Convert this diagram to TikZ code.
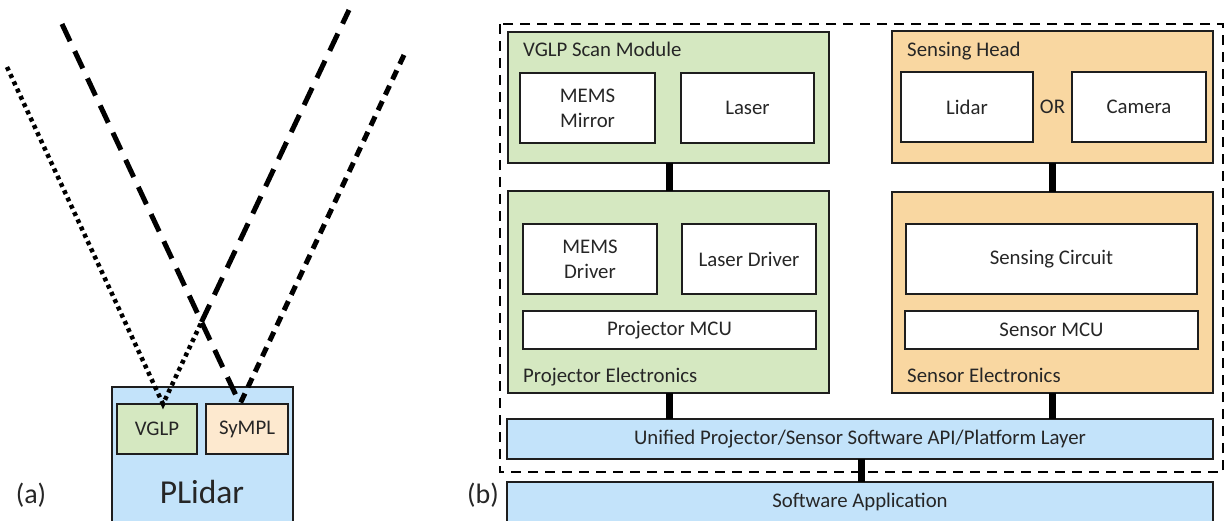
\documentclass[tikz,border=0pt]{standalone}
\usepackage{fontspec}
\setmainfont{Carlito}
\usetikzlibrary{calc}
\definecolor{gfill}{HTML}{D5E8C1}
\definecolor{ofill}{HTML}{F9D7A1}
\definecolor{bfill}{HTML}{C3E3FA}
\definecolor{pfill}{HTML}{FDE9CF}
\definecolor{edge}{HTML}{1E1E1E}
\definecolor{ink}{HTML}{262626}
\newcommand\lblfont{\fontsize{20.8}{25}\selectfont}
\begin{document}
\begin{tikzpicture}[x=1pt,y=-1pt,
  box/.style={draw=edge,line width=1.8pt,inner sep=0pt,outer sep=0pt,text=ink,font=\lblfont,align=center},
  wbox/.style={box,fill=white},
  gbox/.style={box,fill=gfill},
  obox/.style={box,fill=ofill},
  bbox/.style={box,fill=bfill},
  pbox/.style={box,fill=pfill},
  title/.style={anchor=base west,inner sep=0pt,text=ink,font=\lblfont},
  plain/.style={inner sep=0pt,text=ink,font=\lblfont},
  link/.style={draw=black,line width=7pt},
  dotline/.style={line width=4.5pt,dash pattern=on 4pt off 4pt},
  longdash/.style={line width=5pt,dash pattern=on 19pt off 11pt},
  meddash/.style={line width=5pt,dash pattern=on 10pt off 7pt},
  outerdash/.style={line width=2.8pt,dash pattern=on 10pt off 7pt}]
\useasboundingbox (0,0) rectangle (1225,521);

% ---------- panel (a) ----------
\node[bbox,minimum width=181pt,minimum height=136pt] (plidar) at (202.5,455) {};
\node[gbox,minimum width=80pt,minimum height=50pt] (vglp) at (157,429) {VGLP};
\node[pbox,minimum width=82pt,minimum height=50pt] (sympl) at (247,429) {SyMPL};
\node[plain,font=\fontsize{33.5}{38}\selectfont] (plidartxt) at (202,492) {PLidar};
\node[plain,font=\fontsize{28}{32}\selectfont] (alab) at (31,495) {(a)};

\coordinate (p1) at ($(vglp.north)+(6,0)$);
\coordinate (s1) at ($(sympl.north)+(-7,0)$);
\coordinate (dl) at (7,67);
\coordinate (ul) at (62,24);
\coordinate (ur) at (349,10);
\coordinate (rr) at (404,55);
\coordinate (xc) at (201.5,322);

\draw[dotline] (dl) -- (p1) -- (xc);
\draw[longdash] (xc) -- (ur);
\draw[longdash] (ul) -- (s1);
\draw[meddash] (rr) -- (s1);

% ---------- panel (b) ----------
\draw[outerdash] (500,24) rectangle (1223,472);

\node[gbox,minimum width=321pt,minimum height=131pt] (scan) at (668.5,97.5) {};
\node[title] (scantxt) at (523,57) {VGLP Scan Module};
\node[wbox,minimum width=135pt,minimum height=70pt] (mirror) at (587.5,108) {MEMS\\Mirror};
\node[wbox,minimum width=133pt,minimum height=70pt] (laser) at (747.5,108) {Laser};

\node[gbox,minimum width=321pt,minimum height=202pt] (projel) at (668.5,292) {};
\node[wbox,minimum width=134pt,minimum height=70pt] (memsdrv) at (590,259) {MEMS\\Driver};
\node[wbox,minimum width=134pt,minimum height=70pt] (laserdrv) at (749,259) {Laser Driver};
\node[wbox,minimum width=293pt,minimum height=38pt] (projmcu) at (669.5,330) {Projector MCU};
\node[title] (projeltxt) at (523,382) {Projector Electronics};

\node[obox,minimum width=321pt,minimum height=132pt] (head) at (1052.5,97) {};
\node[title] (headtxt) at (907,57) {Sensing Head};
\node[wbox,minimum width=132pt,minimum height=70pt] (lidar) at (967,107) {Lidar};
\node[wbox,minimum width=134pt,minimum height=70pt] (camera) at (1139,107) {Camera};
\node[plain] (ortxt) at (1052.5,107) {OR};

\node[obox,minimum width=321pt,minimum height=201pt] (sensel) at (1052.5,292.5) {};
\node[wbox,minimum width=291pt,minimum height=70pt] (circuit) at (1051.5,259) {Sensing Circuit};
\node[wbox,minimum width=293pt,minimum height=38pt] (sensmcu) at (1051.5,330) {Sensor MCU};
\node[title] (senseltxt) at (907,382) {Sensor Electronics};

\node[bbox,minimum width=706pt,minimum height=40pt] (unified) at (860,439) {Unified Projector/Sensor Software API/Platform Layer};
\node[bbox,minimum width=706pt,minimum height=42pt] (app) at (860,503) {};
\node[plain] (apptxt) at (860,502) {Software Application};
\node[plain,font=\fontsize{28}{32}\selectfont] (blab) at (483,495) {(b)};

% connectors
\draw[link] ($(scan.south)+(1,0)$) -- ($(projel.north)+(1,0)$);
\draw[link] (head.south) -- (sensel.north);
\draw[link] ($(projel.south)+(1,0)$) -- ($(projel.south |- unified.north)+(1,0)$);
\draw[link] (sensel.south) -- (sensel.south |- unified.north);
\draw[link] ($(unified.south)+(1,0)$) -- ($(app.north)+(1,0)$);
\end{tikzpicture}
\end{document}
